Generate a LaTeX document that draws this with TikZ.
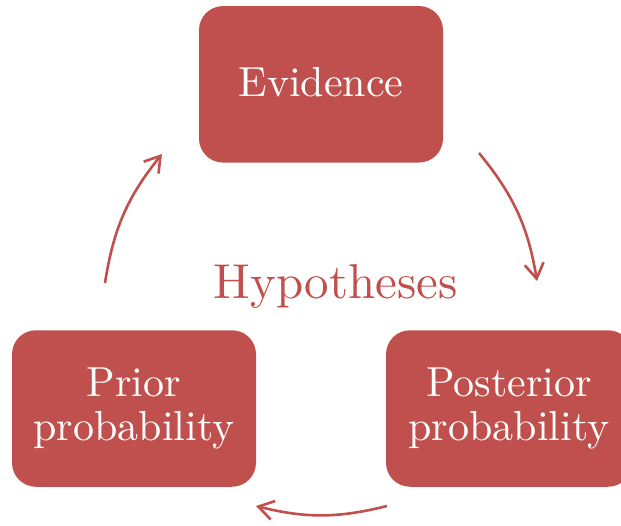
\documentclass[tikz,border=0pt]{standalone}
\usepackage{fontspec}
\setmainfont{lmroman10-regular.otf}
\usetikzlibrary{arrows.meta}
\definecolor{boxred}{HTML}{C0504D}
\tikzset{
  stagebox/.style={fill=boxred, draw=none, rounded corners=24pt,
    minimum width=244pt, minimum height=156.5pt, inner sep=0pt,
    text=white, align=center, font=\fontsize{42}{44}\selectfont},
  cyclearrow/.style={draw=boxred, line width=2.6pt,
    -{Straight Barb[length=15pt,width=19pt]}},
}
\begin{document}
\begin{tikzpicture}[x=1pt,y=-1pt]
\useasboundingbox (0,0) rectangle (621,525);
\node[stagebox, text depth=5pt] (evidence) at (321,84.3) {Evidence};
\node[stagebox] (prior) at (134,408.5) {Prior\\probability};
\node[stagebox, minimum width=246pt] (posterior) at (509,408.5) {Posterior\\probability};
\node[text=boxred, anchor=base, font=\fontsize{49}{52}\selectfont, inner sep=0pt] (hyp) at (335.5,298) {Hypotheses};
\coordinate (a1s) at (105,283);
\coordinate (a1e) at (162,154);
\coordinate (a2s) at (479,153);
\coordinate (a2e) at (537,281);
\coordinate (a3s) at (387,506);
\coordinate (a3e) at (256,506);
\draw[cyclearrow] (a1s) to[bend left=15] (a1e);
\draw[cyclearrow] (a2s) to[bend left=15] (a2e);
\draw[cyclearrow] (a3s) to[bend left=14] (a3e);
\end{tikzpicture}
\end{document}
